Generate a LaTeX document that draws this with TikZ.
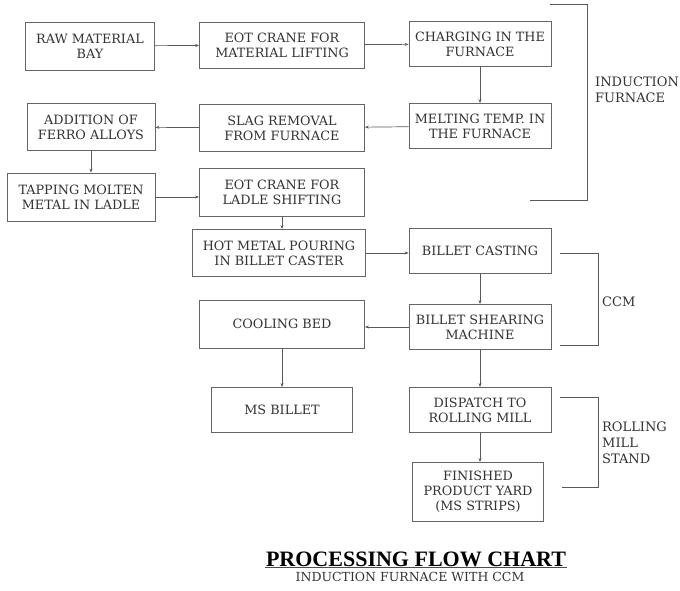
\documentclass[tikz,border=0pt]{standalone}
\usepackage{fontspec}
\setmainfont{DejaVu Serif}
\newfontfamily\titlefont{Liberation Serif}
\usetikzlibrary{arrows.meta}

\begin{document}
\begin{tikzpicture}[x=1pt,y=-1pt,
    stage/.style={draw=black!60, line width=0.8pt, text=black!80, align=center, inner sep=0pt, font=\fontsize{12.8}{15}\selectfont},
    flow/.style={draw=black!65, line width=0.7pt, -{Stealth[length=4pt,width=3pt]}},
    brace/.style={draw=black!65, line width=0.8pt},
    tag/.style={anchor=west, align=left, text=black!80, inner sep=0pt, font=\fontsize{13}{16}\selectfont}]
    \useasboundingbox (0,0) rectangle (680,590);
    \node [stage, minimum width=129pt, minimum height=48pt] (raw)      at (90,46)  {RAW MATERIAL\\BAY};
    \node [stage, minimum width=165pt, minimum height=46pt] (liftcrane) at (282,45) {EOT CRANE FOR\\MATERIAL LIFTING};
    \node [stage, minimum width=142pt, minimum height=45pt] (charging) at (480,44) {CHARGING IN THE\\FURNACE};
    \node [stage, minimum width=142pt, minimum height=45pt] (melting)  at (480,126) {MELTING TEMP. IN\\THE FURNACE};
    \node [stage, minimum width=165pt, minimum height=47pt] (slag)     at (282,128) {SLAG REMOVAL\\FROM FURNACE};
    \node [stage, minimum width=128pt, minimum height=47pt] (ferro)    at (91,127)  {ADDITION OF\\FERRO ALLOYS};
    \node [stage, minimum width=148pt, minimum height=48pt] (tapping)  at (81,197)  {TAPPING MOLTEN\\METAL IN LADLE};
    \node [stage, minimum width=165pt, minimum height=48pt] (ladlecrane) at (282,192) {EOT CRANE FOR\\LADLE SHIFTING};
    \node [stage, minimum width=173pt, minimum height=47pt] (pouring)  at (279,253) {HOT METAL POURING\\IN BILLET CASTER};
    \node [stage, minimum width=142pt, minimum height=45pt] (casting)  at (480,251) {BILLET CASTING};
    \node [stage, minimum width=142pt, minimum height=45pt] (shearing) at (480,327) {BILLET SHEARING\\MACHINE};
    \node [stage, minimum width=165pt, minimum height=48pt] (cooling)  at (282,324) {COOLING BED};
    \node [stage, minimum width=141pt, minimum height=45pt] (billet)   at (282,410) {MS BILLET};
    \node [stage, minimum width=142pt, minimum height=45pt] (dispatch) at (480,410) {DISPATCH TO\\ROLLING MILL};
    \node [stage, minimum width=131pt, minimum height=59pt] (finished) at (478,492) {FINISHED\\PRODUCT YARD\\(MS STRIPS)};

    \draw [flow] (raw) -- (liftcrane);
    \draw [flow] (liftcrane) -- (charging);
    \draw [flow] (charging) -- (melting);
    \draw [flow] (melting) -- (slag);
    \draw [flow] (slag) -- (ferro);
    \draw [flow] (ferro.south) -- (ferro.south |- tapping.north);
    \draw [flow] (tapping.east) -- (tapping.east -| ladlecrane.west);
    \draw [flow] (ladlecrane) -- (ladlecrane |- pouring.north);
    \draw [flow] (pouring.east) -- (pouring.east -| casting.west);
    \draw [flow] (casting) -- (shearing);
    \draw [flow] (shearing.west) -- (shearing.west -| cooling.east);
    \draw [flow] (cooling) -- (billet);
    \draw [flow] (shearing) -- (dispatch);
    \draw [flow] (dispatch.south) -- (dispatch.south |- finished.north);

    \draw [brace] (550,4) -- (587,4) -- (587,200) -- (530,200);
    \node [tag] (furnacetag) at (595,90) {INDUCTION\\FURNACE};
    \draw [brace] (560,253) -- (598,253) -- (598,345) -- (560,345);
    \node [tag] (ccmtag) at (602,302) {CCM};
    \draw [brace] (560,397) -- (598,397) -- (598,487) -- (562,487);
    \node [tag] (milltag) at (602,443) {ROLLING\\MILL\\STAND};

    \node [inner sep=1pt, font=\titlefont\bfseries\fontsize{22}{23}\selectfont] (title) at (416,559) {PROCESSING FLOW CHART};
    \draw [black!70, line width=0.8pt] (title.south west) -- (title.south east);
    \node [text=black!80, inner sep=0pt, font=\fontsize{12.5}{13}\selectfont] (subtitle) at (410,577) {INDUCTION FURNACE WITH CCM};
\end{tikzpicture}
\end{document}
